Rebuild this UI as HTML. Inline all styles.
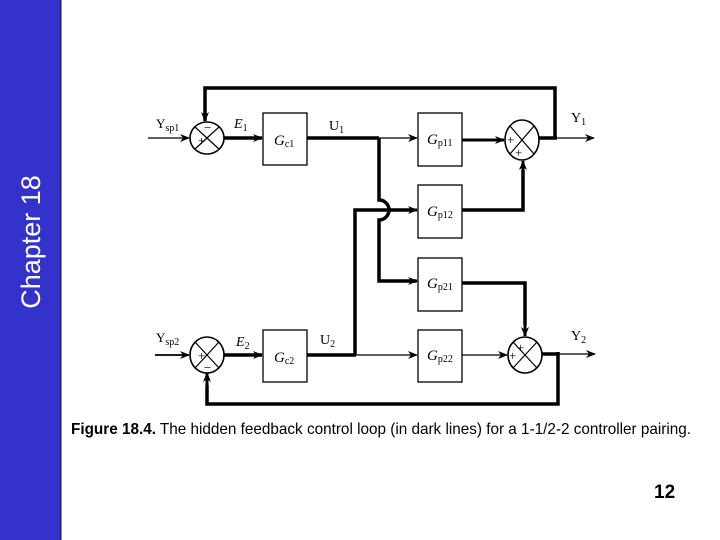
<!DOCTYPE html>
<html><head><meta charset="utf-8"><style>
html,body{margin:0;padding:0;background:#fff;}
svg{display:block;}
</style></head><body>
<svg width="720" height="540" viewBox="0 0 720 540" xmlns="http://www.w3.org/2000/svg" font-family="Liberation Serif, serif">
<defs>
<marker id="a" markerWidth="10" markerHeight="8" refX="9" refY="4" orient="auto" markerUnits="userSpaceOnUse">
<path d="M0,0 L10,4 L0,8 L3,4 Z" fill="#000"/></marker>
</defs>
<rect x="0" y="0" width="61" height="540" fill="#3333cc"/>
<rect x="60" y="0" width="1.5" height="540" fill="#1a1a66"/>
<text transform="translate(40,242) rotate(-90)" text-anchor="middle" font-family="Liberation Sans, sans-serif" font-size="27" fill="#fff">Chapter 18</text>

<g stroke="#000" fill="none">
<!-- top feedback -->
<polyline points="205,121 205,88 555,88 555,138" stroke-width="3.5" marker-end=""/>
<line x1="205" y1="100" x2="205" y2="121" stroke-width="3" marker-end="url(#a)"/>
<!-- sum1 -->
<ellipse cx="207" cy="138" rx="17" ry="16" stroke-width="1.6" fill="#fff"/>
<line x1="195" y1="127" x2="219" y2="149" stroke-width="1.2"/>
<line x1="219" y1="127" x2="195" y2="149" stroke-width="1.2"/>
<line x1="148" y1="138" x2="189" y2="138" stroke-width="1.2" marker-end="url(#a)"/>
<line x1="224" y1="138" x2="262" y2="138" stroke-width="3.5" marker-end="url(#a)"/>
<rect x="263" y="113" width="44" height="52" stroke-width="1.3" fill="#fff"/>
<line x1="307" y1="138" x2="379" y2="138" stroke-width="3.5"/>
<line x1="379" y1="138" x2="417" y2="138" stroke-width="1.2" marker-end="url(#a)"/>
<rect x="418" y="113" width="44" height="53" stroke-width="1.3" fill="#fff"/>
<line x1="462" y1="140" x2="504" y2="140" stroke-width="3" marker-end="url(#a)"/>
<!-- sum3 -->
<ellipse cx="522" cy="140" rx="17" ry="20" stroke-width="1.6" fill="#fff"/>
<line x1="510" y1="126" x2="534" y2="154" stroke-width="1.2"/>
<line x1="534" y1="126" x2="510" y2="154" stroke-width="1.2"/>
<line x1="539" y1="138" x2="557" y2="138" stroke-width="3.5"/>
<line x1="557" y1="138" x2="594" y2="138" stroke-width="1.2" marker-end="url(#a)"/>
<!-- vertical U1 with hop -->
<path d="M379,138 L379,200 A10,10 0 0 1 379,220 L379,281 L416,281" stroke-width="3.5"/>
<line x1="400" y1="281" x2="417" y2="281" stroke-width="3" marker-end="url(#a)"/>
<!-- U2 up to Gp12 -->
<path d="M355,355 L355,210 L410,210" stroke-width="3.5"/>
<line x1="400" y1="210" x2="417" y2="210" stroke-width="3" marker-end="url(#a)"/>
<rect x="418" y="185" width="44" height="53" stroke-width="1.3" fill="#fff"/>
<path d="M462,210 L523,210 L523,170" stroke-width="3.5"/>
<line x1="523" y1="175" x2="523" y2="161" stroke-width="3" marker-end="url(#a)"/>
<rect x="418" y="258" width="44" height="53" stroke-width="1.3" fill="#fff"/>
<path d="M462,283 L525,283 L525,325" stroke-width="3.5"/>
<line x1="525" y1="320" x2="525" y2="336" stroke-width="3" marker-end="url(#a)"/>
<!-- sum4 -->
<ellipse cx="525" cy="355" rx="17" ry="18" stroke-width="1.6" fill="#fff"/>
<line x1="513" y1="342" x2="537" y2="368" stroke-width="1.2"/>
<line x1="537" y1="342" x2="513" y2="368" stroke-width="1.2"/>
<line x1="542" y1="354" x2="559" y2="354" stroke-width="3.5"/>
<line x1="559" y1="354" x2="595" y2="354" stroke-width="1.2" marker-end="url(#a)"/>
<path d="M558,352 L558,404 L207,404 L207,385" stroke-width="3.5"/>
<line x1="207" y1="390" x2="207" y2="373" stroke-width="3" marker-end="url(#a)"/>
<!-- sum2 -->
<ellipse cx="207" cy="355" rx="17" ry="18" stroke-width="1.6" fill="#fff"/>
<line x1="195" y1="342" x2="219" y2="368" stroke-width="1.2"/>
<line x1="219" y1="342" x2="195" y2="368" stroke-width="1.2"/>
<line x1="155" y1="355" x2="189" y2="355" stroke-width="1.8" marker-end="url(#a)"/>
<line x1="224" y1="355" x2="262" y2="355" stroke-width="3.5" marker-end="url(#a)"/>
<rect x="263" y="330" width="44" height="52" stroke-width="1.3" fill="#fff"/>
<line x1="307" y1="355" x2="356" y2="355" stroke-width="3.5"/>
<line x1="356" y1="355" x2="417" y2="355" stroke-width="1.2" marker-end="url(#a)"/>
<rect x="418" y="330" width="44" height="52" stroke-width="1.3" fill="#fff"/>
<line x1="462" y1="355" x2="507" y2="355" stroke-width="1.2" marker-end="url(#a)"/>
</g>

<g fill="#000" font-size="14">
<text x="156" y="128" font-size="13">Y<tspan font-size="10" dy="3">sp1</tspan></text>
<text x="198" y="145" font-size="13">+</text>
<text x="204" y="132" font-size="13">−</text>
<text x="234" y="128" font-style="italic">E<tspan font-size="10" dy="3" font-style="normal">1</tspan></text>
<text x="274" y="145" font-style="italic" font-size="15">G<tspan font-size="10" dy="2" font-style="normal">c1</tspan></text>
<text x="329" y="130">U<tspan font-size="10" dy="3">1</tspan></text>
<text x="427" y="144" font-style="italic" font-size="15">G<tspan font-size="10" dy="2" font-style="normal">p11</tspan></text>
<text x="427" y="216" font-style="italic" font-size="15">G<tspan font-size="10" dy="2" font-style="normal">p12</tspan></text>
<text x="427" y="288" font-style="italic" font-size="15">G<tspan font-size="10" dy="2" font-style="normal">p21</tspan></text>
<text x="427" y="360" font-style="italic" font-size="15">G<tspan font-size="10" dy="2" font-style="normal">p22</tspan></text>
<text x="274" y="362" font-style="italic" font-size="15">G<tspan font-size="10" dy="2" font-style="normal">c2</tspan></text>
<text x="507" y="144" font-size="13">+</text>
<text x="515" y="157" font-size="13">+</text>
<text x="517" y="352" font-size="13">+</text>
<text x="509" y="360" font-size="13">+</text>
<text x="198" y="360" font-size="13">+</text>
<text x="204" y="372" font-size="13">−</text>
<text x="571" y="122">Y<tspan font-size="10" dy="3">1</tspan></text>
<text x="571" y="340">Y<tspan font-size="10" dy="3">2</tspan></text>
<text x="156" y="342" font-size="13">Y<tspan font-size="10" dy="3">sp2</tspan></text>
<text x="236" y="346" font-style="italic">E<tspan font-size="10" dy="3" font-style="normal">2</tspan></text>
<text x="320" y="344">U<tspan font-size="10" dy="3">2</tspan></text>
</g>

<text x="71" y="434" font-family="Liberation Sans, sans-serif" font-size="16" fill="#000" textLength="620" lengthAdjust="spacingAndGlyphs"><tspan font-weight="bold">Figure 18.4.</tspan>   The hidden feedback control loop (in dark lines) for a 1-1/2-2 controller pairing.</text>
<text x="654" y="498" font-family="Liberation Sans, sans-serif" font-size="19" font-weight="bold" fill="#000">12</text>
</svg>
</body></html>
